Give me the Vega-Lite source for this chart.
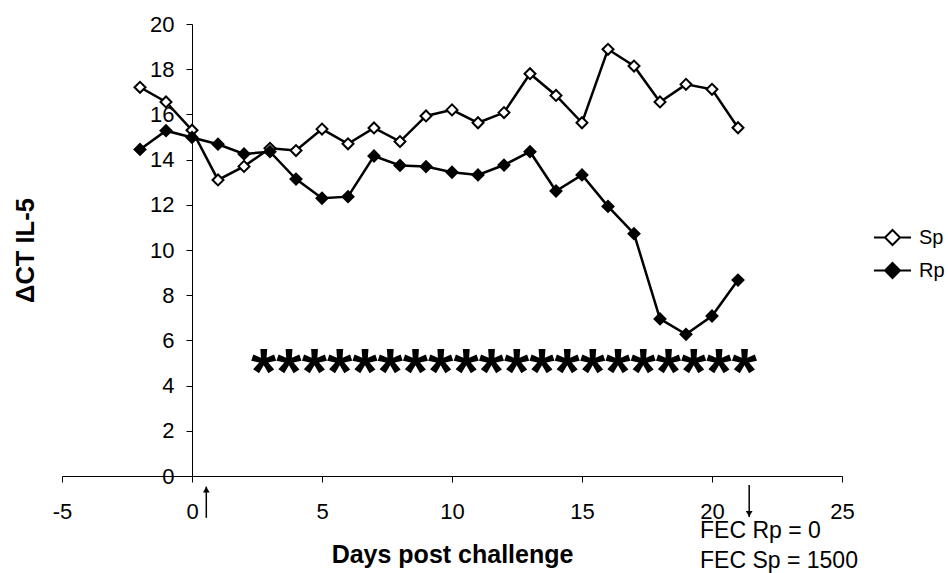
{
  "$schema": "https://vega.github.io/schema/vega-lite/v6.json",
  "width": 780,
  "height": 452,
  "autosize": {"type": "none"},
  "padding": {"left": 62, "top": 24, "right": 106, "bottom": 97},
  "background": "white",
  "config": {
    "view": {"stroke": null},
    "font": "Liberation Sans",
    "axis": {
      "domainColor": "black", "tickColor": "black", "labelColor": "black", "titleColor": "black",
      "grid": false, "labelFont": "Liberation Sans", "titleFont": "Liberation Sans",
      "domainWidth": 1, "tickWidth": 1, "labelFlush": false, "labelOverlap": false, "labelBound": false
    },
    "legend": {"labelFont": "Liberation Sans", "labelColor": "black"}
  },
  "datasets": {
    "series": [
      {"day": -2, "series": "Sp", "ct": 17.2}, {"day": -1, "series": "Sp", "ct": 16.55}, {"day": 0, "series": "Sp", "ct": 15.3},
      {"day": 1, "series": "Sp", "ct": 13.1}, {"day": 2, "series": "Sp", "ct": 13.7}, {"day": 3, "series": "Sp", "ct": 14.5},
      {"day": 4, "series": "Sp", "ct": 14.4}, {"day": 5, "series": "Sp", "ct": 15.35}, {"day": 6, "series": "Sp", "ct": 14.7},
      {"day": 7, "series": "Sp", "ct": 15.4}, {"day": 8, "series": "Sp", "ct": 14.8}, {"day": 9, "series": "Sp", "ct": 15.93},
      {"day": 10, "series": "Sp", "ct": 16.2}, {"day": 11, "series": "Sp", "ct": 15.63}, {"day": 12, "series": "Sp", "ct": 16.08},
      {"day": 13, "series": "Sp", "ct": 17.8}, {"day": 14, "series": "Sp", "ct": 16.84}, {"day": 15, "series": "Sp", "ct": 15.63},
      {"day": 16, "series": "Sp", "ct": 18.88}, {"day": 17, "series": "Sp", "ct": 18.14}, {"day": 18, "series": "Sp", "ct": 16.55},
      {"day": 19, "series": "Sp", "ct": 17.33}, {"day": 20, "series": "Sp", "ct": 17.11}, {"day": 21, "series": "Sp", "ct": 15.41},
      {"day": -2, "series": "Rp", "ct": 14.45}, {"day": -1, "series": "Rp", "ct": 15.28}, {"day": 0, "series": "Rp", "ct": 14.98},
      {"day": 1, "series": "Rp", "ct": 14.68}, {"day": 2, "series": "Rp", "ct": 14.25}, {"day": 3, "series": "Rp", "ct": 14.35},
      {"day": 4, "series": "Rp", "ct": 13.14}, {"day": 5, "series": "Rp", "ct": 12.29}, {"day": 6, "series": "Rp", "ct": 12.36},
      {"day": 7, "series": "Rp", "ct": 14.16}, {"day": 8, "series": "Rp", "ct": 13.74}, {"day": 9, "series": "Rp", "ct": 13.69},
      {"day": 10, "series": "Rp", "ct": 13.44}, {"day": 11, "series": "Rp", "ct": 13.32}, {"day": 12, "series": "Rp", "ct": 13.76},
      {"day": 13, "series": "Rp", "ct": 14.35}, {"day": 14, "series": "Rp", "ct": 12.61}, {"day": 15, "series": "Rp", "ct": 13.32},
      {"day": 16, "series": "Rp", "ct": 11.93}, {"day": 17, "series": "Rp", "ct": 10.72}, {"day": 18, "series": "Rp", "ct": 6.95},
      {"day": 19, "series": "Rp", "ct": 6.27}, {"day": 20, "series": "Rp", "ct": 7.08}, {"day": 21, "series": "Rp", "ct": 8.67}
    ],
    "stars": [{"x": 12, "y": 5, "label": "********************"}],
    "arrows": [
      {"x": 0.55, "top": -0.47, "bottom": -1.85, "dir": "up", "head": -0.6},
      {"x": 21.43, "top": -0.4, "bottom": -1.81, "dir": "down", "head": -1.68}
    ],
    "notes": [
      {"x": 19.54, "y": -2.45, "label": "FEC Rp = 0"},
      {"x": 19.54, "y": -3.78, "label": "FEC Sp = 1500"}
    ]
  },
  "layer": [
    {
      "data": {"name": "series"},
      "mark": {"type": "line", "color": "black", "strokeWidth": 2.5},
      "encoding": {
        "x": {"field": "day", "type": "quantitative", "scale": {"domain": [-5, 25], "nice": false, "zero": false},
          "axis": {"title": "Days post challenge", "values": [-5, 0, 5, 10, 15, 20, 25], "tickSize": 6, "labelPadding": 19,
            "labelExpr": "replace(datum.label, '\u2212', '-')",
            "labelFontSize": 22, "titleFontSize": 25, "titleFontWeight": "bold", "titleY": 86, "titleBaseline": "alphabetic"}},
        "y": {"field": "ct", "type": "quantitative", "scale": {"domain": [0, 20], "nice": false},
          "axis": {"title": "ΔCT IL-5", "values": [0, 2, 4, 6, 8, 10, 12, 14, 16, 18, 20], "offset": -130, "tickSize": 6,
            "labelPadding": 12, "labelFontSize": 22, "titleFontSize": 25.5, "titleFontWeight": "bold",
            "titleX": -167, "titleY": 226, "titleAngle": -90, "titleAlign": "center", "titleBaseline": "middle"}},
        "detail": {"field": "series"}
      }
    },
    {
      "data": {"name": "series"},
      "mark": {"type": "point", "shape": "diamond", "filled": true, "stroke": "black", "strokeWidth": 2, "size": 120, "opacity": 1},
      "encoding": {
        "x": {"field": "day", "type": "quantitative"},
        "y": {"field": "ct", "type": "quantitative"},
        "fill": {"field": "series", "type": "nominal", "scale": {"domain": ["Sp", "Rp"], "range": ["white", "black"]},
          "legend": {"orient": "none", "legendX": 820.5, "legendY": 203.5, "title": null, "padding": 0,
            "symbolType": "M-2.47,0L-1,0M1,0L2.47,0M0,-1L1,0L0,1L-1,0Z",
            "symbolSize": 225, "symbolStrokeWidth": 2, "symbolStrokeColor": "black", "labelFontSize": 20,
            "labelOffset": 16.5, "rowPadding": 9,
            "encode": {"symbols": {"update": {"shape": {"value": "M-2.47,0L-1,0M1,0L2.47,0M0,-1L1,0L0,1L-1,0Z"},
              "stroke": {"value": "black"}, "strokeWidth": {"value": 2}, "opacity": {"value": 1}}}}}}
      }
    },
    {
      "data": {"name": "stars"},
      "mark": {"type": "text", "font": "Liberation Sans", "fontWeight": "bold", "fontSize": 65, "baseline": "alphabetic", "align": "center", "dy": 31, "color": "black"},
      "encoding": {
        "x": {"field": "x", "type": "quantitative"},
        "y": {"field": "y", "type": "quantitative"},
        "text": {"field": "label"}
      }
    },
    {
      "data": {"name": "arrows"},
      "mark": {"type": "rule", "color": "black", "strokeWidth": 1.5},
      "encoding": {
        "x": {"field": "x", "type": "quantitative"},
        "y": {"field": "top", "type": "quantitative"},
        "y2": {"field": "bottom"}
      }
    },
    {
      "data": {"name": "arrows"},
      "mark": {"type": "point", "filled": true, "color": "black", "size": 45, "opacity": 1},
      "encoding": {
        "x": {"field": "x", "type": "quantitative"},
        "y": {"field": "head", "type": "quantitative"},
        "shape": {"field": "dir", "type": "nominal", "scale": {"domain": ["up", "down"], "range": ["triangle-up", "triangle-down"]}, "legend": null}
      }
    },
    {
      "data": {"name": "notes"},
      "mark": {"type": "text", "font": "Liberation Sans", "fontSize": 23, "align": "left", "baseline": "middle", "color": "black"},
      "encoding": {
        "x": {"field": "x", "type": "quantitative"},
        "y": {"field": "y", "type": "quantitative"},
        "text": {"field": "label"}
      }
    }
  ]
}
